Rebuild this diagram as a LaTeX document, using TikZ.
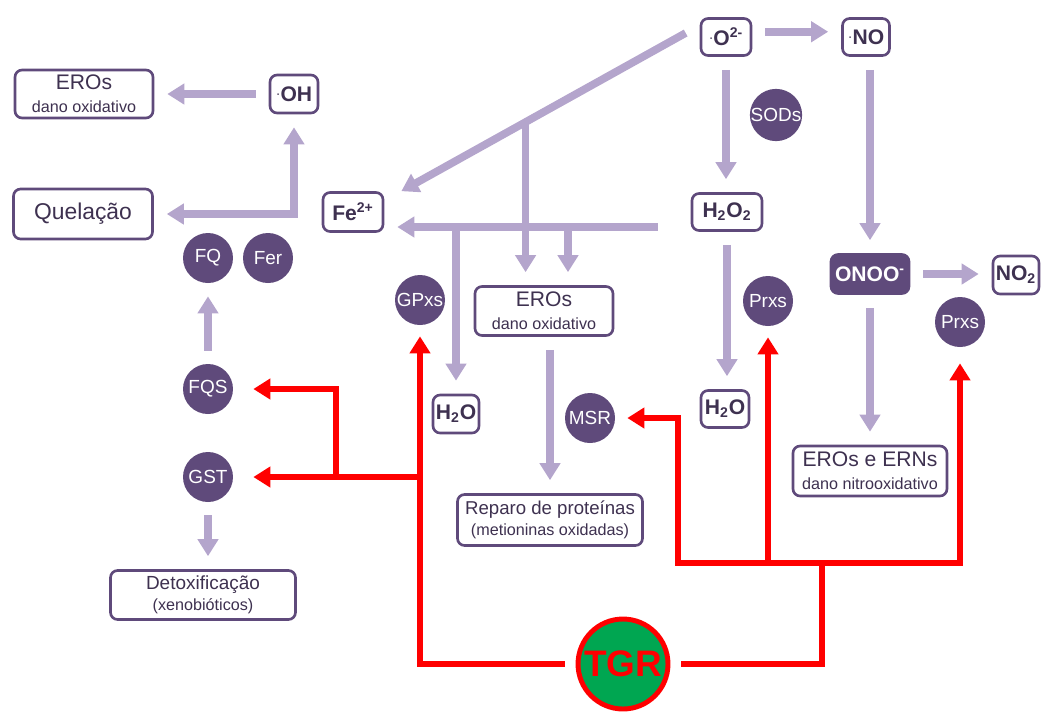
\documentclass[tikz,border=0pt]{standalone}
\usepackage{fontspec}
\setmainfont{Liberation Sans}
\usetikzlibrary{arrows.meta}
\usetikzlibrary{calc}

\definecolor{roxo}{HTML}{5F4A7B}
\definecolor{lilas}{HTML}{B4A5CC}
\definecolor{texto}{HTML}{3E3150}
\definecolor{verde}{HTML}{00A651}
\newcommand{\legenda}{\fontsize{9.2}{10.5}\selectfont}
\newcommand{\pontorad}{\raisebox{1.6pt}{\mdseries\fontsize{8}{8}\selectfont·}}

\tikzset{
  ponta/.tip={Triangle[length=0.34cm,width=0.4cm]},
  caixa/.style={draw=roxo, line width=1.5pt, rounded corners=4pt, fill=white, text=texto,
    align=center, inner sep=1pt, font=\fontsize{12}{13}\selectfont},
  especie/.style={caixa, font=\bfseries\fontsize{12}{13}\selectfont},
  enzima/.style={circle, fill=roxo, text=white, minimum size=1cm, inner sep=0pt,
    font=\fontsize{10.8}{12}\selectfont},
  fluxo/.style={draw=lilas, line width=4.4pt, -ponta, shorten <=0.26cm, shorten >=0.26cm},
  inibe/.style={draw=red, line width=3.4pt, -ponta, shorten >=0.22cm},
}

\begin{document}
\begin{tikzpicture}[x=0.02cm,y=-0.02cm]
\useasboundingbox (0,0) rectangle (1041,711);

% caixas
\node[caixa, minimum width=2.76cm, minimum height=0.96cm] (erosA) at (84,94) {EROs\\{\legenda dano oxidativo}};
\node[especie, minimum width=0.96cm, minimum height=0.76cm] (oh) at (294,94) {\pontorad OH};
\node[caixa, minimum width=2.78cm, minimum height=1cm, font=\fontsize{13}{14}\selectfont] (quel) at (83,214) {Quelação};
\node[especie, minimum width=1.2cm, minimum height=0.78cm] (fe) at (353,212) {Fe\textsuperscript{2+}};
\node[especie, minimum width=1cm, minimum height=0.74cm] (o2) at (726,37) {\pontorad O\textsuperscript{2-}};
\node[especie, minimum width=0.94cm, minimum height=0.74cm] (no) at (866,37) {\pontorad NO};
\node[especie, minimum width=1.4cm, minimum height=0.74cm] (h2o2) at (727,212) {H\textsubscript{2}O\textsubscript{2}};
\node[caixa, minimum width=2.76cm, minimum height=0.98cm] (erosB) at (544,311) {EROs\\{\legenda dano oxidativo}};
\node[especie, minimum width=0.92cm, minimum height=0.76cm] (aguaA) at (456,414) {H\textsubscript{2}O};
\node[especie, minimum width=0.96cm, minimum height=0.74cm] (aguaB) at (725,409) {H\textsubscript{2}O};
\node[especie, fill=roxo, text=white, minimum width=1.56cm, minimum height=0.78cm] (onoo) at (870,274) {ONOO\textsuperscript{-}};
\node[especie, minimum width=0.92cm, minimum height=0.76cm] (no2) at (1016,275) {NO\textsubscript{2}};
\node[caixa, minimum width=3.08cm, minimum height=1cm] (erns) at (870,471) {EROs e ERNs\\{\legenda dano nitrooxidativo}};
\node[caixa, minimum width=3.7cm, minimum height=1.02cm, font=\fontsize{10.6}{12}\selectfont] (reparo) at (550,520) {Reparo de proteínas\\{\legenda (metioninas oxidadas)}};
\node[caixa, minimum width=3.7cm, minimum height=0.98cm, font=\fontsize{10.8}{12}\selectfont] (detox) at (203,595) {Detoxificação\\{\legenda (xenobióticos)}};

% enzimas
\node[enzima] (fq) at (208,258) {FQ};
\node[enzima] (fer) at (268,258) {Fer};
\node[enzima] (fqs) at (208,389) {FQS};
\node[enzima] (gst) at (208,477) {GST};
\node[enzima] (gpxs) at (420,300) {GPxs};
\node[enzima] (msr) at (590,418) {MSR};
\node[enzima] (sods) at (776,115) {SODs};
\node[enzima] (prxsA) at (768,301) {Prxs};
\node[enzima] (prxsB) at (960,322) {Prxs};
\node[circle, draw=red, line width=2.8pt, fill=verde, minimum size=1.8cm, inner sep=0pt,
  text=red, font=\bfseries\fontsize{21}{22}\selectfont] (tgr) at (623,664) {TGR};

% fluxos
\draw[fluxo] (oh.west) -- (erosA.east);
\draw[fluxo, ponta-ponta] (quel.east) -- (quel.east -| oh.south) -- (oh.south);
\draw[fluxo] (fqs.north) -- (fq.south);
\draw[fluxo] (gst.south) -- (gst.south |- detox.north);

\coordinate (dA) at ([shift={(-14,-4)}]o2.west);
\coordinate (dB) at ([xshift=0.34cm]fe.north east);
\draw[fluxo, shorten <=0pt, shorten >=0pt] (dA) -- (dB);
\coordinate (dM) at ($(dA)!0.563!(dB)$);
\draw[fluxo, shorten <=0pt] (dM) -- (dM |- erosB.north);

\coordinate (hR) at ([shift={(-33,15)}]h2o2.west);
\draw[fluxo, shorten <=0pt] (hR) -- (hR -| fe.east);
\coordinate (hA) at (hR -| aguaA.north);
\coordinate (hB) at (568,227);
\draw[fluxo, shorten <=0pt] (hA) -- (aguaA.north);
\draw[fluxo, shorten <=0pt] (hB) -- (hB |- erosB.north);

\draw[fluxo] (o2.south) -- (o2.south |- h2o2.north);
\draw[fluxo] (h2o2.south) -- (h2o2.south |- aguaB.north);
\draw[fluxo] ([yshift=3]o2.east) -- ([yshift=3]o2.east -| no.west);
\draw[fluxo] (onoo.north |- no.south) -- (onoo.north);
\draw[fluxo] (onoo.east) -- (onoo.east -| no2.west);
\draw[fluxo] (onoo.south) -- (erns.north);
\draw[fluxo] (reparo.north |- erosB.south) -- (reparo.north);

% TGR
\coordinate (tL) at (gpxs.south |- tgr.west);
\draw[inibe, shorten <=0.22cm] (tgr.west) -- (tL) -- (gpxs.south);
\coordinate (tG) at (gpxs.south |- gst.east);
\draw[inibe, shorten >=0.4cm] (tG) -- (gst.east);
\coordinate (tF) at ($(tG)!0.45!(gst.east)$);
\draw[inibe, shorten >=0.4cm] (tF) |- (fqs.east);

\coordinate (bW) at (678,563);
\coordinate (bE) at (prxsB.south |- bW);
\coordinate (bM) at (822,563);
\draw[inibe, ponta-ponta, shorten <=0.24cm, shorten >=0.32cm] (msr.east) -| (bW) -- (bE) -- (prxsB.south);
\draw[inibe, -, shorten >=0pt, shorten <=0.22cm] (tgr.east) -| (bM);
\draw[inibe] (prxsA.south |- bW) -- (prxsA.south);
\end{tikzpicture}
\end{document}
